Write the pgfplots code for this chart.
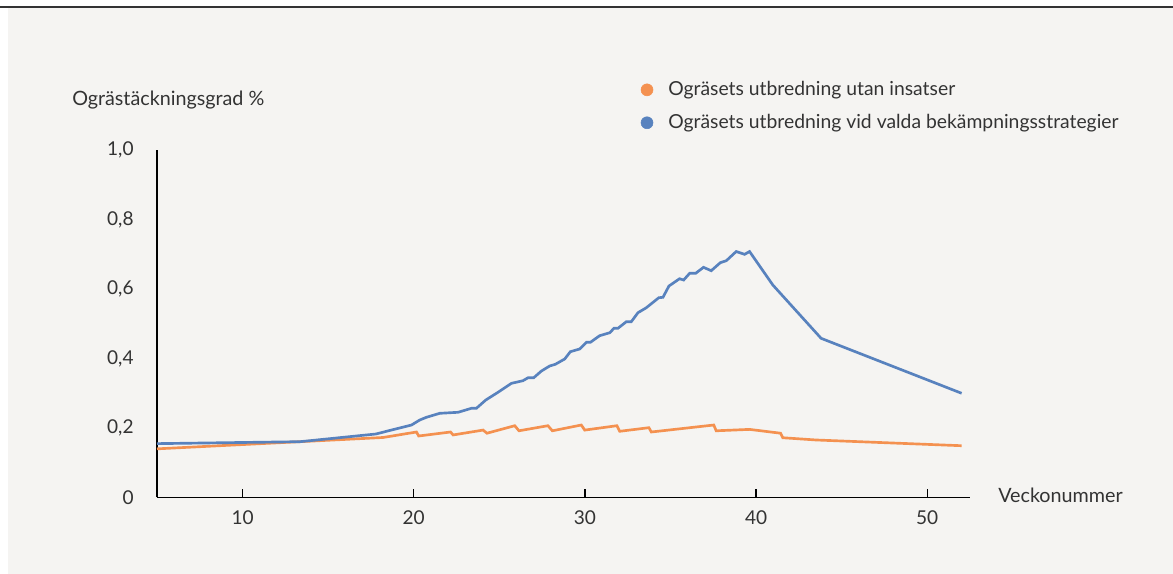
\documentclass[border=0pt]{standalone}
\usepackage{fontspec}
\setmainfont{Lato}
\usepackage{pgfplots}
\pgfplotsset{compat=1.18}
\definecolor{bgc}{RGB}{245,244,242}
\definecolor{orng}{RGB}{244,145,80}
\definecolor{blu}{RGB}{88,130,190}
\definecolor{txt}{RGB}{51,51,51}
\begin{document}
\begin{tikzpicture}[x=0.75pt,y=0.75pt]
\useasboundingbox (0,0) rectangle (1173,574);
\fill[white] (0,0) rectangle (1173,574);
\fill[bgc] (8,0) rectangle (1173,566);
\draw[line width=1.2pt,color=black!80] (0,567) -- (1173,567);
\node[anchor=west,text=txt,font=\fontsize{14.8}{17}\selectfont,inner sep=0] at (72,474) {Ogrästäckningsgrad \%};
\node[anchor=west,text=txt,font=\fontsize{14.8}{17}\selectfont,inner sep=0] at (998,79) {Veckonummer};
\begin{axis}[
  at={(157*0.75pt,76.5*0.75pt)}, anchor=origin,
  scale only axis, width=609.75pt, height=260.6pt,
  xmin=5, xmax=52.5, ymin=0, ymax=1,
  axis lines=left, axis line style={-, line width=1.1pt, black},
  xtick={10,20,30,40,50},
  ytick={0,0.2,0.4,0.6,0.8,1},
  yticklabels={0,{0,2},{0,4},{0,6},{0,8},{1,0}},
  tick align=inside,
  x tick style={line width=1pt, black}, major tick length=6pt,
  y tick style={draw=none},
  /pgf/number format/assume math mode=true,
  tick label style={text=txt,font=\fontsize{14.3}{16}\selectfont},
  x tick label style={yshift=-6pt},
  y tick label style={xshift=-14pt},
  clip=false,
  legend style={at={(0.595,1.205)},anchor=north west,draw=none,fill=none,
    font=\fontsize{14.5}{17}\selectfont,text=txt,row sep=8.5pt,column sep=9.5pt,inner sep=0pt},
  legend cell align=left,
]
\addlegendimage{only marks,mark=*,mark size=4.5pt,color=orng}
\addlegendentry{Ogräsets utbredning utan insatser}
\addlegendimage{only marks,mark=*,mark size=4.5pt,color=blu}
\addlegendentry{Ogräsets utbredning vid valda bekämpningsstrategier}
\addplot[color=orng,line width=2pt,forget plot] coordinates {
(5,0.140) (13.35,0.1606) (18.21,0.1727) (20.16,0.1885) (20.29,0.177)
(22.15,0.1885) (22.30,0.180) (24.05,0.194) (24.28,0.185)
(25.90,0.2066) (26.15,0.192) (27.84,0.2066) (28.10,0.192)
(29.79,0.2086) (29.99,0.194) (31.87,0.2066) (32.03,0.1905)
(33.74,0.2009) (33.88,0.1885) (37.53,0.2086) (37.67,0.192)
(39.62,0.196) (41.43,0.185) (41.56,0.172) (43.51,0.1655) (52.01,0.149)
};
\addplot[color=blu,line width=2pt,forget plot] coordinates {
(5,0.155) (13.35,0.1606) (17.78,0.1827) (19.87,0.2086) (20.35,0.223)
(20.74,0.2308) (21.52,0.2423) (22.59,0.2452) (23.37,0.2567) (23.66,0.2567)
(24.21,0.2806) (24.92,0.3027) (25.71,0.3286) (26.38,0.3361) (26.68,0.3447)
(27.01,0.3447) (27.46,0.364) (27.94,0.3784) (28.27,0.3833) (28.82,0.3986)
(29.15,0.4196) (29.69,0.4273) (30.09,0.4466) (30.32,0.4466) (30.86,0.4656)
(31.45,0.4742) (31.70,0.4869) (31.93,0.4869) (32.42,0.5059) (32.71,0.5059)
(33.10,0.5318) (33.59,0.5462) (34.32,0.575) (34.56,0.5761) (34.91,0.6086)
(35.53,0.6296) (35.77,0.6259) (36.12,0.6452) (36.47,0.6452) (36.93,0.6624)
(37.38,0.6527) (37.91,0.6757) (38.26,0.6814) (38.84,0.7079) (39.33,0.6998)
(39.62,0.7079) (40.98,0.6115) (43.80,0.4581) (52.01,0.2999)
};
\end{axis}
\end{tikzpicture}
\end{document}
